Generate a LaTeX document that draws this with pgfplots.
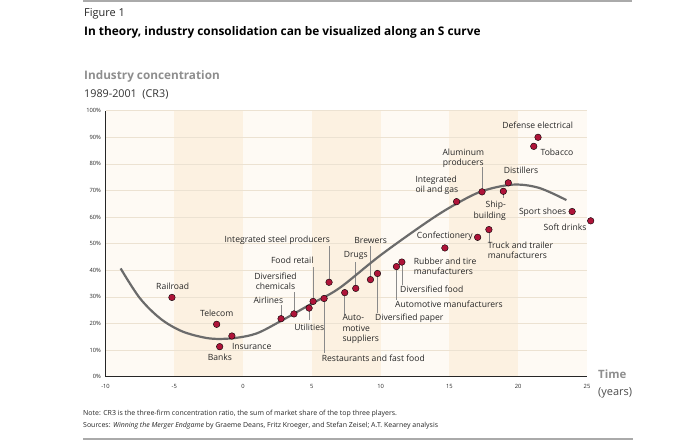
\documentclass[border=0pt]{standalone}
\usepackage{pgfplots}
\pgfplotsset{compat=1.18}
\usepackage{fontspec}
\setmainfont{Open Sans}
\definecolor{dotred}{HTML}{AE1439}
\definecolor{curvegray}{HTML}{6B6B6B}
\definecolor{gridtan}{HTML}{ECE2D2}
\definecolor{bandA}{HTML}{FEFAF4}
\definecolor{bandB}{HTML}{FCF1E1}
\definecolor{txt}{HTML}{262626}
\definecolor{leader}{HTML}{8A8A8A}
\definecolor{headgray}{HTML}{8E8E8E}
\definecolor{rulegray}{HTML}{AAAAAA}
\pgfplotstableread{
x y
-5.17 29.8
-1.92 19.7
-1.70 11.3
-0.81 15.3
2.76 21.8
3.70 23.6
4.80 25.8
5.09 28.3
5.89 29.4
6.25 35.5
7.39 31.6
8.19 33.2
9.26 36.5
9.77 38.8
11.15 41.4
11.54 43.1
14.67 48.4
17.05 52.4
17.87 55.3
15.52 65.8
17.37 69.5
18.92 69.7
19.28 72.9
21.13 86.6
21.44 90.0
23.92 62.1
25.27 58.6
}\industries
\newcommand{\lab}{\fontsize{8.6}{10.2}\selectfont}
\begin{document}
\begin{tikzpicture}
\useasboundingbox (0,0) rectangle (700bp,440bp);
\begin{axis}[
  at={(105.5bp,63.3bp)}, anchor=south west,
  scale only axis, width=481.5bp, height=266bp,
  xmin=-10, xmax=25, ymin=0, ymax=100,
  axis x line*=bottom, axis y line*=left,
  axis line style={-, draw=black!85, line width=1.1bp},
  axis on top,
  clip=false,
  xtick={-10,-5,...,25}, ytick={0,10,...,100},
  major tick length=0pt,
  /pgf/number format/assume math mode=true,
  yticklabel={\pgfmathprintnumber{\tick}\%},
  tick label style={font=\fontsize{5.8}{7}\selectfont, text=txt},
  xticklabel style={yshift=-4.5bp},
  yticklabel style={xshift=-1bp},
]
% background bands
\fill[bandA] (axis cs:-10,0) rectangle (axis cs:-5,100);
\fill[bandB] (axis cs:-5,0) rectangle (axis cs:0,100);
\fill[bandA] (axis cs:0,0) rectangle (axis cs:5,100);
\fill[bandB] (axis cs:5,0) rectangle (axis cs:10,100);
\fill[bandA] (axis cs:10,0) rectangle (axis cs:15,100);
\fill[bandB] (axis cs:15,0) rectangle (axis cs:20,100);
\fill[bandA] (axis cs:20,0) rectangle (axis cs:25,100);
\pgfplotsinvokeforeach{10,20,...,100}{
  \draw[gridtan, line width=0.7bp] (axis cs:-10,#1) -- (axis cs:25,#1);
}
% leader lines
\draw[leader, line width=0.5bp] (axis cs:6.25,35.5) -- (axis cs:6.25,49.3);
\draw[leader, line width=0.5bp] (axis cs:5.09,28.3) -- (axis cs:5.09,41.4);
\draw[leader, line width=0.5bp] (axis cs:8.19,33.2) -- (axis cs:8.19,43.2);
\draw[leader, line width=0.5bp] (axis cs:9.26,36.5) -- (axis cs:9.26,49.3);
\draw[leader, line width=0.5bp] (axis cs:3.70,23.6) -- (axis cs:3.70,32.0);
\draw[leader, line width=0.5bp] (axis cs:2.76,21.8) -- (axis cs:2.76,27.0);
\draw[leader, line width=0.5bp] (axis cs:4.80,25.8) -- (axis cs:4.80,21.3);
\draw[leader, line width=0.5bp] (axis cs:7.39,31.6) -- (axis cs:7.39,23.2);
\draw[leader, line width=0.5bp] (axis cs:5.89,29.4) -- (axis cs:5.89,9.0);
\draw[leader, line width=0.5bp] (axis cs:9.77,38.8) -- (axis cs:9.77,24.0);
\draw[leader, line width=0.5bp] (axis cs:11.15,41.4) -- (axis cs:11.15,28.8);
\draw[leader, line width=0.5bp] (axis cs:11.54,43.1) -- (axis cs:11.54,34.5);
\draw[leader, line width=0.5bp] (axis cs:17.37,69.5) -- (axis cs:17.37,78.8);
\draw[leader, line width=0.5bp] (axis cs:18.92,69.7) -- (axis cs:18.92,67.0);
\draw[leader, line width=0.5bp] (axis cs:17.87,55.3) -- (axis cs:17.87,50.3);
% S curve
\addplot[curvegray, line width=2.2bp, smooth, tension=0.55, no marks] coordinates {
(-8.9,40.7) (-7.5,29.5) (-6,21.8) (-4.5,17.2) (-3,14.9) (-1.9,14.2) (-0.5,14.6)
(1,16.3) (2.7,20.8) (5,27.5) (7,33.3) (10,45.7) (13.5,58.6) (15.5,65)
(17.4,69.8) (19.6,72.2) (21.5,71) (23.5,66.4)};
% industries
\addplot[only marks, mark=*, mark size=3.3bp, mark options={fill=dotred, draw=none}] table[x=x,y=y] {\industries};
\end{axis}
% texts (pixel coordinates, y downward)
\begin{scope}[x=1bp, y=-1bp, yshift=440bp, every node/.style={inner sep=0pt, text=txt}]
\draw[rulegray, line width=1.3bp] (83,1) -- (632,1);
\draw[rulegray, line width=1.3bp] (83,439) -- (633,439);
\node[anchor=west, font=\fontsize{11}{13}\selectfont] at (84,14) {Figure 1};
\node[anchor=west, font=\fontsize{11.9}{13}\selectfont\bfseries, text=black] at (84,32) {In theory, industry consolidation can be visualized along an S curve};
\node[anchor=west, font=\fontsize{11.8}{13}\selectfont\bfseries, text=headgray] at (84,76) {Industry concentration};
\node[anchor=west, font=\fontsize{10.8}{12}\selectfont, text=black!80] at (84,94) {1989-2001\ \ (CR3)};
\node[anchor=west, font=\fontsize{11.5}{14}\selectfont\bfseries, text=headgray] at (598,374) {Time};
\node[anchor=west, font=\fontsize{11}{14}\selectfont, text=black!70] at (598,393) {(years)};
\node[anchor=west, font=\fontsize{7}{8}\selectfont] at (83,414) {Note: CR3 is the three-firm concentration ratio, the sum of market share of the top three players.};
\node[anchor=west, font=\fontsize{7}{8}\selectfont] at (83,426) {Sources: \textit{Winning the Merger Endgame} by Graeme Deans, Fritz Kroeger, and Stefan Zeisel; A.T. Kearney analysis};
% labels
\node[font=\lab] at (277.3,240) {Integrated steel producers};
\node[font=\lab] at (370.7,240) {Brewers};
\node[font=\lab] at (292.3,260.7) {Food retail};
\node[font=\lab] at (355.7,255.7) {Drugs};
\node[font=\lab, align=center] at (275.5,281) {Diversified\\chemicals};
\node[font=\lab] at (172.7,286.7) {Railroad};
\node[font=\lab] at (268.3,300.7) {Airlines};
\node[font=\lab] at (216.7,313.3) {Telecom};
\node[font=\lab] at (309.3,327) {Utilities};
\node[font=\lab, align=left, anchor=west] at (342.3,329.3) {Auto-\\[0.5bp]motive\\[0.5bp]suppliers};
\node[font=\lab] at (251.7,346.7) {Insurance};
\node[font=\lab] at (220,357.7) {Banks};
\node[font=\lab] at (373.3,358.3) {Restaurants and fast food};
\node[font=\lab] at (537.7,125.7) {Defense electrical};
\node[font=\lab] at (557,152.7) {Tobacco};
\node[font=\lab, align=center] at (463.3,158) {Aluminum\\producers};
\node[font=\lab] at (521,170.3) {Distillers};
\node[font=\lab, align=left, anchor=west] at (415.3,185) {Integrated\\oil and gas};
\node[font=\lab, align=right, anchor=east] at (506,210.7) {Ship-\\building};
\node[font=\lab, anchor=east] at (566.5,212.3) {Sport shoes};
\node[font=\lab, anchor=east] at (586.7,227.7) {Soft drinks};
\node[font=\lab, anchor=east] at (473,236.3) {Confectionery};
\node[font=\lab, align=left, anchor=west] at (487.7,250.3) {Truck and trailer\\manufacturers};
\node[font=\lab, align=left, anchor=west] at (413.7,266.5) {Rubber and tire\\manufacturers};
\node[font=\lab, anchor=west] at (400,289) {Diversified food};
\node[font=\lab, anchor=west] at (395,304.3) {Automotive manufacturers};
\node[font=\lab, anchor=west] at (375,318.3) {Diversified paper};
\end{scope}
\end{tikzpicture}
\end{document}
